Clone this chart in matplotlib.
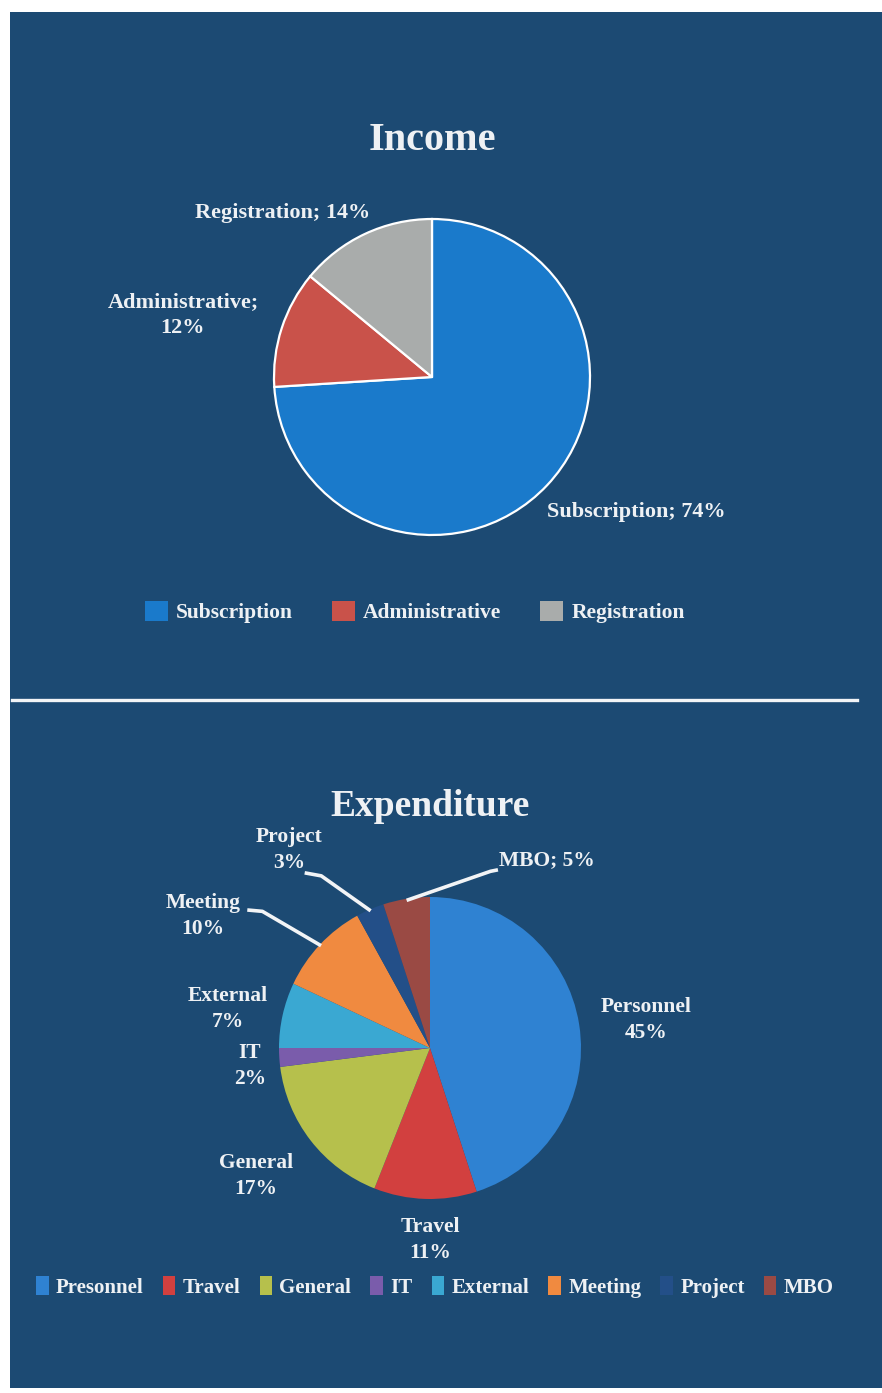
import numpy as np
import matplotlib
matplotlib.use("Agg")
import matplotlib.pyplot as plt
from matplotlib.patches import Rectangle, Patch
from matplotlib.lines import Line2D

# ---------------- data ----------------
income_labels = ["Subscription", "Administrative", "Registration"]
income_values = [74, 12, 14]
income_colors = ["#1a7acb", "#c9524a", "#a9acab"]

exp_labels = ["Personnel", "Travel", "General", "IT", "External", "Meeting", "Project", "MBO"]
exp_legend_labels = ["Presonnel", "Travel", "General", "IT", "External", "Meeting", "Project", "MBO"]
exp_values = [45, 11, 17, 2, 7, 10, 3, 5]
exp_colors = ["#2f82d2", "#d2403f", "#b6c04c", "#7a5cab", "#3aa8d2", "#f08a40", "#234f88", "#9a4a44"]

BG = "#1c4a73"
TXT = "#eef1f4"
FONT = ["Liberation Serif", "DejaVu Serif"]

W, H = 882, 1393
fig = plt.figure(figsize=(W / 100, H / 100), dpi=100)
fig.patch.set_facecolor("white")

def fx(px):
    return px / W

def fy(py):
    return 1 - py / H

# blue panel
fig.patches.append(Rectangle((fx(10), fy(1388)), fx(882) - fx(10), fy(12) - fy(1388),
                             transform=fig.transFigure, facecolor=BG, edgecolor="none", zorder=-10))
# divider
fig.add_artist(Line2D([fx(12), fx(857)], [fy(700), fy(700)], transform=fig.transFigure,
                      color="#f2f4f6", linewidth=2.4, zorder=-5))

def pie_axes(cx, cy, r):
    ax = fig.add_axes([fx(cx - r), fy(cy + r), 2 * r / W, 2 * r / H])
    ax.set_axis_off()
    ax.patch.set_visible(False)
    return ax

# ---------------- Income ----------------
ax1 = pie_axes(432, 377, 158)
w1, _ = ax1.pie(income_values, colors=income_colors, startangle=90, counterclock=False,
                wedgeprops=dict(edgecolor="white", linewidth=1.6))
ax1.set_xlim(-1.0, 1.0)
ax1.set_ylim(-1.0, 1.0)
ax1.set_aspect("equal")

inc_label_pos = {"Registration": (-0.943, 1.038),
                 "Administrative": (-1.576, 0.392),
                 "Subscription": (1.291, -0.854)}
for lab, val in zip(income_labels, income_values):
    x, y = inc_label_pos[lab]
    txt = f"{lab};\n{val}%" if lab == "Administrative" else f"{lab}; {val}%"
    ax1.text(x, y, txt, ha="center", va="center", color=TXT, fontsize=16,
             fontweight="bold", family=FONT, linespacing=1.38)

fig.text(fx(432), fy(140), "Income", ha="center", va="center", color=TXT,
         fontsize=29, fontweight="bold", family=FONT)

inc_handles = [Patch(facecolor=c, edgecolor="none") for c in income_colors]
fig.legend(inc_handles, income_labels, loc="center", bbox_to_anchor=(fx(415), fy(612)), ncol=3,
           frameon=False, handlelength=1.05, handleheight=1.05, handletextpad=0.4,
           columnspacing=1.8, labelcolor=TXT,
           prop=dict(family=FONT, size=15.5, weight="bold"))

# ---------------- Expenditure ----------------
ax2 = pie_axes(430, 1048, 151)
w2, _ = ax2.pie(exp_values, colors=exp_colors, startangle=90, counterclock=False,
                wedgeprops=dict(linewidth=0))
ax2.set_xlim(-1.0, 1.0)
ax2.set_ylim(-1.0, 1.0)
ax2.set_aspect("equal")

exp_label_pos = {"Personnel": (1.430, 0.185),
                 "Travel": (0.0, -1.272),
                 "General": (-1.152, -0.848),
                 "IT": (-1.192, -0.119),
                 "External": (-1.338, 0.258),
                 "Meeting": (-1.503, 0.874),
                 "Project": (-0.934, 1.311),
                 "MBO": (0.775, 1.245)}
for lab, val in zip(exp_labels, exp_values):
    x, y = exp_label_pos[lab]
    txt = f"{lab}; {val}%" if lab == "MBO" else f"{lab}\n{val}%"
    ax2.text(x, y, txt, ha="center", va="center", color=TXT, fontsize=15.5,
             fontweight="bold", family=FONT, linespacing=1.4)

# leader lines: (elbow, end) in data units, start at wedge mid-angle on the rim
leaders = {"Meeting": ((-1.11, 0.905), (-1.21, 0.914)),
           "Project": ((-0.72, 1.14), (-0.83, 1.16)),
           "MBO": ((0.40, 1.17), (0.45, 1.18))}
for wdg, lab in zip(w2, exp_labels):
    if lab in leaders:
        ang = np.deg2rad((wdg.theta1 + wdg.theta2) / 2)
        sx, sy = np.cos(ang) * 0.99, np.sin(ang) * 0.99
        (ex, ey), (tx, ty) = leaders[lab]
        ax2.plot([sx, ex, tx], [sy, ey, ty], color="#f2f4f6", linewidth=2.6,
                 clip_on=False, solid_capstyle="butt")

fig.text(fx(430), fy(806), "Expenditure", ha="center", va="center", color=TXT,
         fontsize=27, fontweight="bold", family=FONT)

exp_handles = [Patch(facecolor=c, edgecolor="none") for c in exp_colors]
fig.legend(exp_handles, exp_legend_labels, loc="center", bbox_to_anchor=(fx(435), fy(1287)), ncol=8,
           frameon=False, handlelength=0.6, handleheight=1.05, handletextpad=0.35,
           columnspacing=0.92, labelcolor=TXT,
           prop=dict(family=FONT, size=15, weight="bold"))

fig.savefig("out.png", dpi=100, facecolor=fig.get_facecolor())
